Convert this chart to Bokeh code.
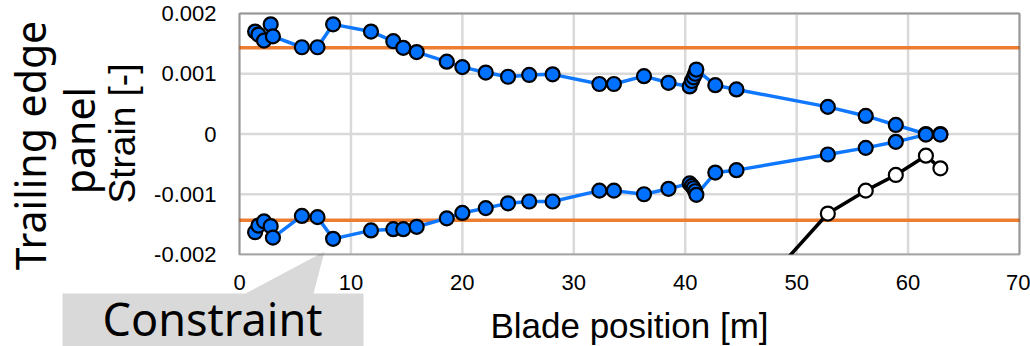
from math import pi
from bokeh.plotting import figure
from bokeh.models import Range1d, FixedTicker, CustomJSTickFormatter, Label, BoxAnnotation
from bokeh.embed import file_html
from bokeh.resources import INLINE

# ---- data ----
positions = [1.4, 1.7, 2.2, 2.8, 3.0, 5.6, 7.0, 8.4, 11.8, 13.8, 14.7, 15.9, 18.6, 20.0,
             22.1, 24.1, 26.0, 28.1, 32.3, 33.6, 36.3, 38.5, 40.4, 40.6, 40.75, 40.9, 41.0,
             42.7, 44.6, 52.8, 56.2, 58.9, 61.6, 62.9]
upper_strain = [0.00170, 0.00165, 0.00155, 0.00182, 0.00162, 0.00144, 0.00144, 0.00182,
                0.00170, 0.00154, 0.00143, 0.00136, 0.00120, 0.00111, 0.00102, 0.00095,
                0.00098, 0.00099, 0.00083, 0.00083, 0.00096, 0.00085, 0.00079, 0.00088,
                0.00094, 0.00100, 0.00107, 0.00081, 0.00074, 0.00045, 0.00030, 0.00015,
                0.0, 0.0]
lower_strain = [-0.00163, -0.00152, -0.00145, -0.00153, -0.00172, -0.00136, -0.00138, -0.00174,
                -0.00160, -0.00158, -0.00158, -0.00154, -0.00140, -0.00131, -0.00123, -0.00115,
                -0.00112, -0.00112, -0.00094, -0.00094, -0.00100, -0.00091, -0.00082, -0.00086,
                -0.00090, -0.00095, -0.00101, -0.00064, -0.00060, -0.00034, -0.00023, -0.00013,
                -0.00001, -0.00001]
tip_positions = [44.6, 52.8, 56.2, 58.9, 61.6, 62.9]
tip_strain = [-0.00300, -0.00132, -0.00094, -0.00068, -0.00036, -0.00057]
strain_limit = 0.00143
x_ticks = [0, 10, 20, 30, 40, 50, 60, 70]
y_ticks = [-0.002, -0.001, 0, 0.001, 0.002]

BLUE_FILL = "#0070ff"
BLUE_LINE = "#0f78ff"
ORANGE = "#ed7d31"
GRID = "#d9d9d9"

# where the plot box sits on the canvas (pixels)
W, H = 1030, 346
B_LEFT, B_RIGHT, B_TOP, B_BOTTOM = 239, 1019, 13, 254
X_MIN, X_MAX = x_ticks[0], x_ticks[-1]
Y_MIN, Y_MAX = y_ticks[0], y_ticks[-1]


def ax_x(px):
    return X_MIN + (px - B_LEFT) * (X_MAX - X_MIN) / (B_RIGHT - B_LEFT)


def ax_y(py):
    return Y_MAX - (py - B_TOP) * (Y_MAX - Y_MIN) / (B_BOTTOM - B_TOP)


p = figure(width=W, height=H, output_backend="svg", toolbar_location=None,
           x_range=Range1d(ax_x(0), ax_x(W)), y_range=Range1d(ax_y(H), ax_y(0)),
           min_border_left=0, min_border_right=0, min_border_top=0, min_border_bottom=0)
p.title.visible = False
p.background_fill_color = "white"
p.border_fill_color = "white"
p.outline_line_color = None
p.grid.visible = False

p.xaxis.fixed_location = Y_MIN
p.yaxis.fixed_location = X_MIN
p.xaxis.bounds = (X_MIN, X_MAX)
p.yaxis.bounds = (Y_MIN, Y_MAX)
p.xaxis.ticker = FixedTicker(ticks=x_ticks)
p.yaxis.ticker = FixedTicker(ticks=y_ticks)
p.yaxis.formatter = CustomJSTickFormatter(code="return tick == 0 ? '0' : tick.toFixed(3);")
for ax in (p.xaxis[0], p.yaxis[0]):
    ax.axis_line_color = None
    ax.major_tick_line_color = None
    ax.minor_tick_line_color = None
    ax.major_label_text_font = "Liberation Sans"
    ax.major_label_text_font_size = "22px"
    ax.major_label_text_color = "black"
    ax.axis_label_text_font = "Liberation Sans"
    ax.axis_label_text_font_style = "normal"
    ax.axis_label_text_color = "black"
p.xaxis.major_label_standoff = 14
p.yaxis.major_label_standoff = 17
p.xaxis.axis_label = "Blade position [m]"
p.xaxis.axis_label_text_font_size = "35px"
p.xaxis.axis_label_standoff = 13

# grid lines inside the plot box
p.segment(x0=x_ticks, y0=[Y_MIN] * len(x_ticks), x1=x_ticks, y1=[Y_MAX] * len(x_ticks),
          line_color=GRID, line_width=2.5)
p.segment(x0=[X_MIN] * len(y_ticks), y0=y_ticks, x1=[X_MAX] * len(y_ticks), y1=y_ticks,
          line_color=GRID, line_width=2.5)

# strain limits
for s in (strain_limit, -strain_limit):
    p.line([X_MIN, X_MAX], [s, s], line_color=ORANGE, line_width=3.5)

p.line(positions, upper_strain, line_color=BLUE_LINE, line_width=3.5)
p.line(positions, lower_strain, line_color=BLUE_LINE, line_width=3.5)
p.scatter(positions, upper_strain, size=14, fill_color=BLUE_FILL, line_color="black", line_width=2.2)
p.scatter(positions, lower_strain, size=14, fill_color=BLUE_FILL, line_color="black", line_width=2.2)
p.line(tip_positions, tip_strain, line_color="black", line_width=3.5)
p.scatter(tip_positions, tip_strain, size=14, fill_color="white", line_color="black", line_width=2.2)

# mask everything that falls below the plot box (plot box clipping)
p.quad(left=X_MIN, right=ax_x(W), top=Y_MIN, bottom=ax_y(H), fill_color="white", line_color=None)

# Callout "Constraint"
cx = [62, 245, 324, 313, 363, 363, 62]
cy = [293, 293, 251, 293, 293, 350, 350]
p.patch([ax_x(v) for v in cx], [ax_y(v) for v in cy], fill_color="#d9d9d9", line_color=None)

# plot box outline
p.add_layout(BoxAnnotation(left=X_MIN, right=X_MAX, bottom=Y_MIN, top=Y_MAX,
                           fill_alpha=0, line_color="black", line_width=2))

p.add_layout(Label(x=ax_x(212), y=ax_y(318), text="Constraint",
                   text_align="center", text_baseline="middle",
                   text_font="Noto Sans", text_font_size="45px", text_color="black"))

# y-axis title
p.add_layout(Label(x=ax_x(122), y=ax_y(133), text="Strain [-]",
                   angle=pi / 2, text_align="center", text_baseline="middle",
                   text_font="Liberation Sans", text_font_size="37px", text_color="black"))

# Left-side title (two lines, rotated)
p.add_layout(Label(x=ax_x(29), y=ax_y(145), text="Trailing edge",
                   angle=pi / 2, text_align="center", text_baseline="middle",
                   text_font="Noto Sans", text_font_size="41px", text_color="black"))
p.add_layout(Label(x=ax_x(78), y=ax_y(140), text="panel",
                   angle=pi / 2, text_align="center", text_baseline="middle",
                   text_font="Noto Sans", text_font_size="41px", text_color="black"))

open("out.html", "w").write(file_html(p, INLINE))
